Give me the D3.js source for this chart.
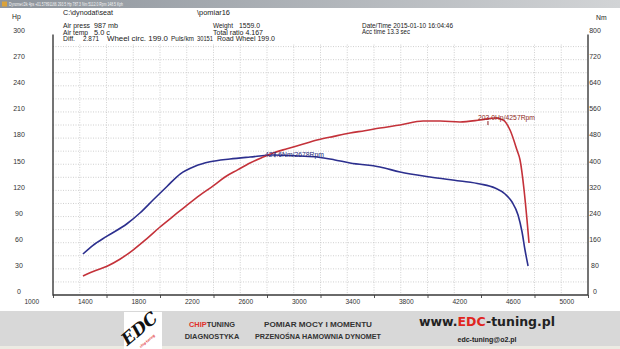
<!DOCTYPE html>
<html>
<head>
<meta charset="utf-8">
<script src="https://cdn.jsdelivr.net/npm/d3@7"></script>
<style>
  body { margin: 0; background: #fff; }
  svg { display: block; font-family: "Liberation Sans", Arial, sans-serif; }
</style>
</head>
<body>
<div id="chart"></div>
<script>
// axis labels / ticks
var rpmLabels = [1000, 1400, 1800, 2200, 2600, 3000, 3400, 3800, 4200, 4600, 5000];
var rpmTickMarks = [1200, 1600, 2000, 2400, 2800, 3200, 3600, 4000, 4400, 4800, 5200];
var hpLabels = [0, 30, 60, 90, 120, 150, 180, 210, 240, 270, 300];
var nmLabels = [0, 80, 160, 240, 320, 400, 480, 560, 640, 720, 800];

// power curve (Hp, left axis) - rpm as placed on the axis
var powerRpm = [1424, 1500, 1604, 1700, 1798, 1900, 2000, 2100, 2202, 2299, 2400, 2486, 2580, 2673, 2760, 2845, 2950, 3047, 3174, 3300, 3421, 3530, 3645, 3795, 3967, 4094, 4243, 4393, 4505, 4565, 4617, 4669, 4692, 4722, 4744, 4759];
var powerHp  = [21.8, 27.0, 33.0, 41.0, 51.6, 64.5, 78.0, 90.5, 103.2, 114.7, 125.5, 135.4, 143.5, 151.4, 157.5, 162.9, 167.8, 172.1, 177.8, 182.0, 185.8, 188.5, 191.6, 195.0, 199.6, 199.6, 198.5, 200.8, 203.1, 200.8, 189.3, 166.3, 154.9, 120.5, 86.0, 59.7];

// torque curve (Nm, right axis)
var torqueRpm = [1424, 1499, 1604, 1753, 1850, 1948, 2052, 2150, 2262, 2374, 2523, 2673, 2845, 3047, 3174, 3300, 3421, 3645, 3795, 4019, 4243, 4393, 4505, 4580, 4632, 4677, 4707, 4729, 4752];
var torqueNm  = [125.4, 152.0, 180.0, 218.0, 250.9, 290.6, 332.0, 370.0, 394.0, 407.5, 416.1, 422.2, 428.3, 425.2, 422.2, 414.0, 403.8, 391.6, 376.3, 361.0, 348.7, 339.6, 327.3, 309.0, 284.5, 244.7, 192.7, 137.7, 88.7];

// peak markers: position on the axis, and the label the software prints
var powerPeak = { rpm: 4452, value: 203.0, label: "203.0Hp/4257Rpm" };
var torquePeak = { rpm: 2860, value: 427.6, label: "427.6Nm/2678Rpm" };

var width = 620, height = 349;
var pLeft = 53, pRight = 588, pTop = 33.5, pBottom = 295;

var svg = d3.select("#chart").append("svg")
  .attr("width", width).attr("height", height);

var x = d3.scaleLinear().domain([1200, 5200]).range([pLeft, pRight]);
var yHp = d3.scaleLinear().domain([0, 300]).range([pBottom, pTop]);
var yNm = d3.scaleLinear().domain([0, 800]).range([pBottom, pTop]);

// title bar
var grad = svg.append("defs").append("linearGradient").attr("id", "bar");
grad.append("stop").attr("offset", "0%").attr("stop-color", "#8c939b");
grad.append("stop").attr("offset", "100%").attr("stop-color", "#d2d4d6");
svg.append("rect").attr("x", 0).attr("y", 0).attr("width", width).attr("height", 8).attr("fill", "url(#bar)");
svg.append("rect").attr("x", 2).attr("y", 1.5).attr("width", 5).attr("height", 5).attr("fill", "#d9a23a");
svg.append("text").attr("x", 9).attr("y", 6).attr("font-size", 4.6).attr("fill", "#f4f4f4")
  .attr("textLength", 114).attr("lengthAdjust", "spacingAndGlyphs")
  .text("Dynomet.Dk 4ps +01.57891166 293.5 Hp 787.3 Nm 5112.0 Rpm 148.5 Kph");

// grid
var grid = svg.append("g").attr("stroke", "#c4c4c4").attr("stroke-dasharray", "1,1.5").attr("stroke-width", 0.8);
grid.selectAll("line.v").data(d3.range(1400, 5200, 200)).enter().append("line")
  .attr("x1", function (d) { return x(d); }).attr("x2", function (d) { return x(d); })
  .attr("y1", yHp(285) - 2).attr("y2", pBottom);
grid.selectAll("line.h").data(d3.range(15, 300, 15)).enter().append("line")
  .attr("x1", pLeft).attr("x2", pRight)
  .attr("y1", function (d) { return yHp(d); }).attr("y2", function (d) { return yHp(d); });

// x axis: tick marks, then labels (labels sit a bit right of their gridline)
var xTicks = svg.append("g").attr("transform", "translate(0," + pBottom + ")")
  .call(d3.axisBottom(x).tickValues(rpmTickMarks).tickSize(3).tickFormat(""));
xTicks.select(".domain").remove();
xTicks.selectAll("line").attr("stroke", "#555");

var xLab = svg.append("g").attr("transform", "translate(5," + (pBottom + 4) + ")")
  .call(d3.axisBottom(x).tickValues(rpmLabels).tickSize(0).tickPadding(0).tickFormat(d3.format("d")));
xLab.select(".domain").remove();
xLab.selectAll("text").attr("font-size", 6.6).attr("fill", "#333").attr("font-family", "Liberation Sans, Arial");

// y labels, centred outside the axis lines, slightly above their gridline
var yL = svg.append("g").attr("transform", "translate(19,-3.5)")
  .call(d3.axisLeft(yHp).tickValues(hpLabels).tickSize(0).tickPadding(0));
yL.select(".domain").remove();
yL.selectAll("text").attr("text-anchor", "middle").attr("font-size", 7).attr("fill", "#333").attr("font-family", "Liberation Sans, Arial");

var yR = svg.append("g").attr("transform", "translate(595,-3.5)")
  .call(d3.axisRight(yNm).tickValues(nmLabels).tickSize(0).tickPadding(0));
yR.select(".domain").remove();
yR.selectAll("text").attr("text-anchor", "middle").attr("font-size", 7).attr("fill", "#333").attr("font-family", "Liberation Sans, Arial");

// axis lines
var ax = svg.append("g").attr("stroke", "#3a3a3a").attr("stroke-width", 1.4).attr("fill", "none");
ax.append("path").attr("d", "M" + pLeft + "," + (pTop + 1) + "V" + pBottom + "H" + pRight + "V" + (pTop + 1));

// curves
var powerLine = d3.line().curve(d3.curveMonotoneX)
  .x(function (d, i) { return x(powerRpm[i]); })
  .y(function (d) { return yHp(d); });
var torqueLine = d3.line().curve(d3.curveMonotoneX)
  .x(function (d, i) { return x(torqueRpm[i]); })
  .y(function (d) { return yNm(d); });

svg.append("path").datum(torqueNm).attr("d", torqueLine)
  .attr("fill", "none").attr("stroke", "#2c2f8e").attr("stroke-width", 1.6);
svg.append("path").datum(powerHp).attr("d", powerLine)
  .attr("fill", "none").attr("stroke", "#c4323a").attr("stroke-width", 1.6);

// peak markers
function marker(p, sc, col, dy, off) {
  var px = x(p.rpm), py = sc(p.value);
  svg.append("line").attr("x1", px).attr("x2", px).attr("y1", py + off).attr("y2", py + off + 4)
    .attr("stroke", col).attr("stroke-width", 1);
  svg.append("text").attr("x", px - 10).attr("y", py + dy).attr("font-size", 6.8).attr("fill", col)
    .text(p.label);
}
marker(powerPeak, yHp, "#8e1f22", 1.5, 3);
marker(torquePeak, yNm, "#24287a", 2.2, -2);

// header texts
var hdr = svg.append("g").attr("font-size", 6.8).attr("fill", "#222");
function ht(tx, ty, s, len) {
  var t = hdr.append("text").attr("x", tx).attr("y", ty).text(s);
  if (len) t.attr("textLength", len).attr("lengthAdjust", "spacingAndGlyphs");
}
ht(12, 19, "Hp");
ht(596, 20, "Nm");
ht(63, 14.5, "C:\\dynodat\\seat", 50);
ht(197, 14.5, "\\pomiar16", 33);
ht(63, 27.5, "Air press", 27); ht(94, 27.5, "987 mb", 24);
ht(63, 34.5, "Air temp", 25); ht(94, 34.5, "5.0 c", 16);
ht(63, 41, "Diff.", 12); ht(83, 41, "2.871", 16); ht(107, 41, "Wheel circ. 199.0", 61);
ht(171, 41, "Puls/km", 23); ht(197, 41, "30151", 16); ht(217, 41, "Road Wheel 199.0", 58);
ht(213, 27.5, "Weight", 20); ht(239, 27.5, "1559.0", 21);
ht(213, 34.5, "Total ratio 4.167", 50);
ht(362, 28, "Date/Time  2015-01-10 16:04:46", 91);
ht(362, 34, "Acc time   13.3 sec", 48);

// footer band
var ft = svg.append("g");
ft.append("rect").attr("x", 0).attr("y", 311).attr("width", width).attr("height", 38).attr("fill", "#d8d8d8");
ft.append("rect").attr("x", 0).attr("y", 346).attr("width", width).attr("height", 3).attr("fill", "#ecebe3");
ft.append("rect").attr("x", 124).attr("y", 312).attr("width", 38).attr("height", 37).attr("fill", "#fff");
ft.append("text").attr("transform", "translate(143,333) rotate(-40)").attr("text-anchor", "middle")
  .attr("font-size", 17).attr("font-weight", "bold").attr("font-style", "italic")
  .attr("font-family", "DejaVu Serif, serif").attr("fill", "#111").text("EDC");
ft.append("text").attr("transform", "translate(148,342) rotate(-40)").attr("text-anchor", "middle")
  .attr("font-size", 3.5).attr("font-weight", "bold").attr("fill", "#d22").text("chip tuning");

var ct = ft.append("text").attr("x", 212).attr("y", 327).attr("text-anchor", "middle")
  .attr("font-size", 7.4).attr("font-weight", "bold").attr("font-family", "Liberation Sans, Arial");
ct.append("tspan").attr("fill", "#e0312c").text("CHIP");
ct.append("tspan").attr("fill", "#333").text("TUNING");
ft.append("text").attr("x", 212).attr("y", 339).attr("text-anchor", "middle")
  .attr("font-size", 7.4).attr("font-weight", "bold").attr("fill", "#333").text("DIAGNOSTYKA");
ft.append("text").attr("x", 318).attr("y", 327).attr("text-anchor", "middle")
  .attr("font-size", 7).attr("font-weight", "bold").attr("fill", "#333")
  .attr("textLength", 108).attr("lengthAdjust", "spacingAndGlyphs").text("POMIAR MOCY I MOMENTU");
ft.append("text").attr("x", 318).attr("y", 339).attr("text-anchor", "middle")
  .attr("font-size", 7).attr("font-weight", "bold").attr("fill", "#333")
  .attr("textLength", 126).attr("lengthAdjust", "spacingAndGlyphs").text("PRZENOŚNA HAMOWNIA DYNOMET");

var www = ft.append("text").attr("x", 487).attr("y", 326).attr("text-anchor", "middle")
  .attr("font-size", 12.5).attr("font-weight", "bold").attr("font-family", "DejaVu Sans, sans-serif");
www.append("tspan").attr("fill", "#222").text("www.");
www.append("tspan").attr("fill", "#e0251f").text("EDC");
www.append("tspan").attr("fill", "#222").text("-tuning.pl");
ft.append("text").attr("x", 487).attr("y", 342).attr("text-anchor", "middle")
  .attr("font-size", 7).attr("font-weight", "bold").attr("fill", "#222").text("edc-tuning@o2.pl");
</script>
</body>
</html>
